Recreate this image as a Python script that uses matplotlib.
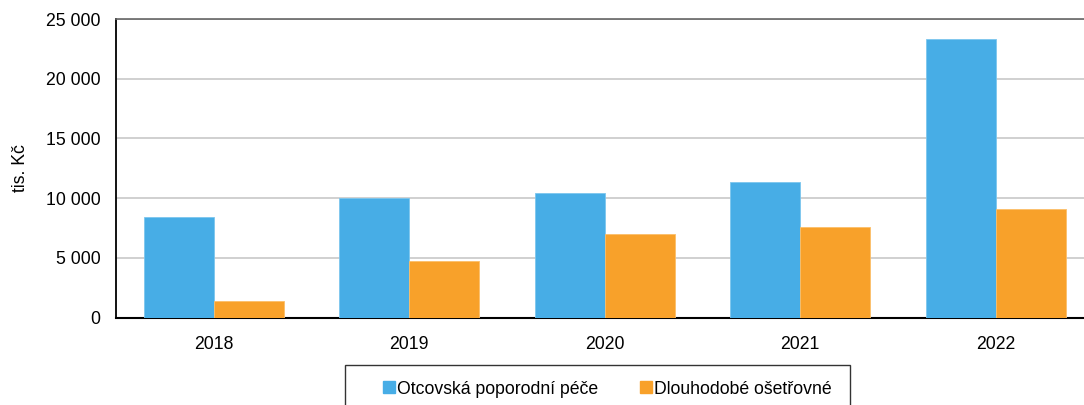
import matplotlib.pyplot as plt
import numpy as np
from matplotlib.patches import Rectangle
from matplotlib.ticker import FuncFormatter

plt.rcParams['font.family'] = ['Liberation Sans', 'DejaVu Sans']

years = ['2018', '2019', '2020', '2021', '2022']
otcovska = [8430, 10050, 10440, 11330, 23350]
dlouhodobe = [1380, 4720, 6980, 7620, 9050]
series_names = ['Otcovská poporodní péče', 'Dlouhodobé ošetřovné']

blue = '#47ADE6'
orange = '#F8A12A'

fig = plt.figure(figsize=(10.84, 4.05), dpi=100)
ax = fig.add_axes([116 / 1084, 87.5 / 405, 977.5 / 1084, 298.5 / 405])

x = np.arange(len(years))
w = 0.358
ax.bar(x - w / 2, otcovska, w, color=blue, edgecolor='#7CC6EE', linewidth=0.6,
       label=series_names[0], zorder=3)
ax.bar(x + w / 2, dlouhodobe, w, color=orange, edgecolor='#FBBF6A', linewidth=0.6,
       label=series_names[1], zorder=3)

ax.set_xlim(-0.5, len(years) - 0.5)
ax.set_ylim(0, 25000)
ax.set_yticks(range(0, 25001, 5000))
ax.yaxis.set_major_formatter(FuncFormatter(lambda v, p: f'{int(v):,}'.replace(',', ' ')))
ax.set_xticks(x)
ax.set_xticklabels(years)
ax.tick_params(axis='both', length=0, labelsize=12.7, colors='black')
ax.tick_params(axis='y', pad=11)
ax.tick_params(axis='x', pad=13)
ax.grid(axis='y', color='#C8C8C8', linewidth=1.2, zorder=0)
ax.set_ylabel('tis. Kč', fontsize=12.7)
ax.yaxis.set_label_coords(-87 / 977.5, 0.5)

ax.spines['left'].set_color('black')
ax.spines['left'].set_linewidth(1.3)
ax.spines['bottom'].set_color('black')
ax.spines['bottom'].set_linewidth(1.5)
ax.spines['top'].set_color('#666666')
ax.spines['top'].set_linewidth(1.2)
ax.spines['right'].set_visible(False)

# legend box (cut off at the bottom edge like the original)
fig.patches.append(Rectangle((345 / 1084, -0.05), 505 / 1084, 0.05 + 40 / 405,
                             transform=fig.transFigure, fill=False,
                             edgecolor='#333333', linewidth=1.0))
handles = [plt.Line2D([], [], marker='s', linestyle='', color=c, markersize=8)
           for c in (blue, orange)]
fig.legend(handles, series_names, loc='center', bbox_to_anchor=(608 / 1084, 1 - 389 / 405),
           ncol=2, frameon=False, fontsize=12.7, handlelength=0.55, handletextpad=0.2,
           columnspacing=2.4, borderpad=0)

fig.savefig('out.png', dpi=100)
